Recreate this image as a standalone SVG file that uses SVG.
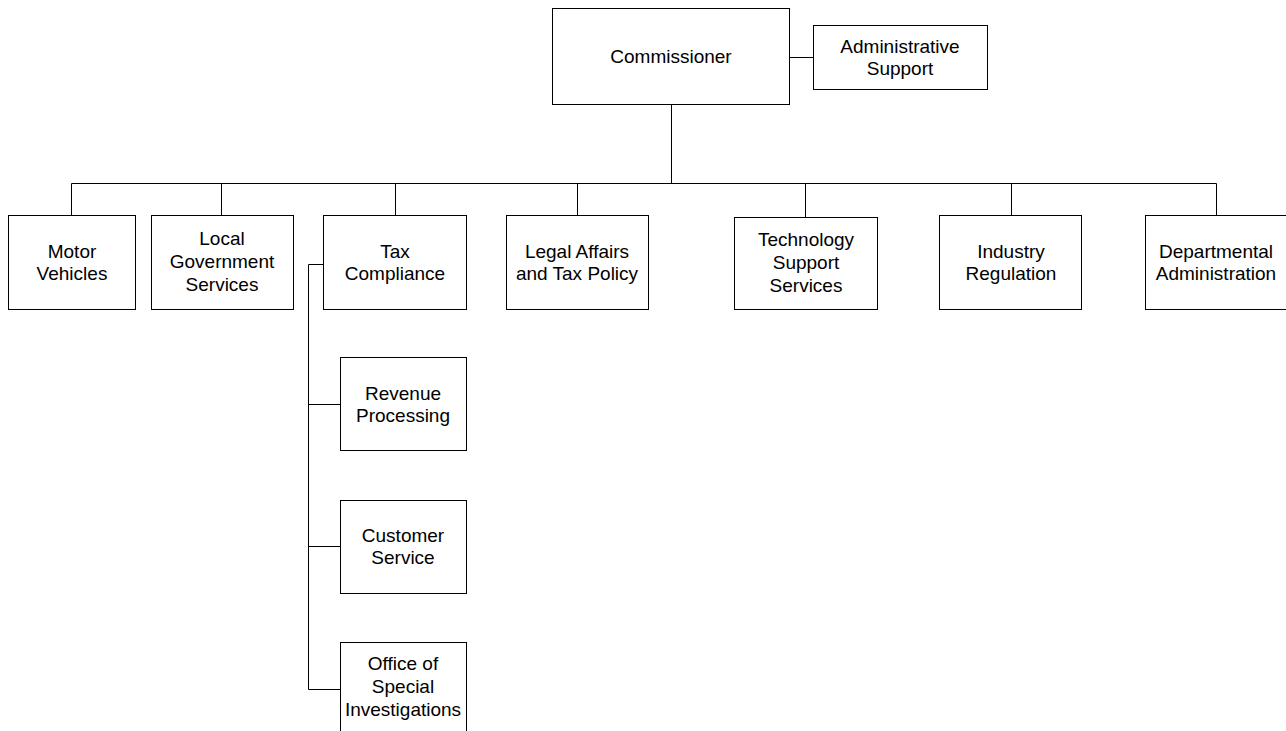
<svg xmlns="http://www.w3.org/2000/svg" width="1286" height="731" viewBox="0 0 1286 731">
<style>
.box{fill:#fff;stroke:#000;stroke-width:1}
.t{font-family:"Liberation Sans",Arial,sans-serif;font-size:19px;fill:#000;text-anchor:middle}
.c{fill:none;stroke:#000;stroke-width:1}
</style>
<rect width="1286" height="731" fill="#fff"/>
<g id="connectors">
<path class="c" d="M789.5 57.5H813"/>
<path class="c" d="M671.5 104V183.5"/>
<path class="c" d="M71.5 183.5H1216.5"/>
<path class="c" d="M71.5 183.5V215M221.5 183.5V215M395.5 183.5V215M577.5 183.5V215M805.5 183.5V217M1011.5 183.5V215M1216.5 183.5V215"/>
<path class="c" d="M323 264.5H308.5V689.5H340M308.5 404.5H340M308.5 546.5H340"/>
</g>
<g id="commissioner"><rect class="box" x="552.5" y="8.5" width="237" height="96"/><text class="t" x="671" y="63">Commissioner</text></g>
<g id="admin-support"><rect class="box" x="813.5" y="25.5" width="174" height="64"/><text class="t" x="900" y="53">Administrative</text><text class="t" x="900" y="75">Support</text></g>
<g id="motor-vehicles"><rect class="box" x="8.5" y="215.5" width="127" height="94"/><text class="t" x="72" y="258">Motor</text><text class="t" x="72" y="280">Vehicles</text></g>
<g id="local-government"><rect class="box" x="151.5" y="215.5" width="142" height="94"/><text class="t" x="222" y="245">Local</text><text class="t" x="222" y="268">Government</text><text class="t" x="222" y="291">Services</text></g>
<g id="tax-compliance"><rect class="box" x="323.5" y="215.5" width="143" height="94"/><text class="t" x="395" y="258">Tax</text><text class="t" x="395" y="280">Compliance</text></g>
<g id="legal-affairs"><rect class="box" x="506.5" y="215.5" width="142" height="94"/><text class="t" x="577" y="258">Legal Affairs</text><text class="t" x="577" y="280">and Tax Policy</text></g>
<g id="technology"><rect class="box" x="734.5" y="217.5" width="143" height="92"/><text class="t" x="806" y="246">Technology</text><text class="t" x="806" y="269">Support</text><text class="t" x="806" y="292">Services</text></g>
<g id="industry-regulation"><rect class="box" x="939.5" y="215.5" width="142" height="94"/><text class="t" x="1011" y="258">Industry</text><text class="t" x="1011" y="280">Regulation</text></g>
<g id="departmental-administration"><rect class="box" x="1145.5" y="215.5" width="142" height="94"/><text class="t" x="1216" y="258">Departmental</text><text class="t" x="1216" y="280">Administration</text></g>
<g id="revenue-processing"><rect class="box" x="340.5" y="357.5" width="126" height="93"/><text class="t" x="403" y="400">Revenue</text><text class="t" x="403" y="422">Processing</text></g>
<g id="customer-service"><rect class="box" x="340.5" y="500.5" width="126" height="93"/><text class="t" x="403" y="542">Customer</text><text class="t" x="403" y="564">Service</text></g>
<g id="special-investigations"><rect class="box" x="340.5" y="642.5" width="126" height="100"/><text class="t" x="403" y="670">Office of</text><text class="t" x="403" y="693">Special</text><text class="t" x="403" y="716">Investigations</text></g>
</svg>
